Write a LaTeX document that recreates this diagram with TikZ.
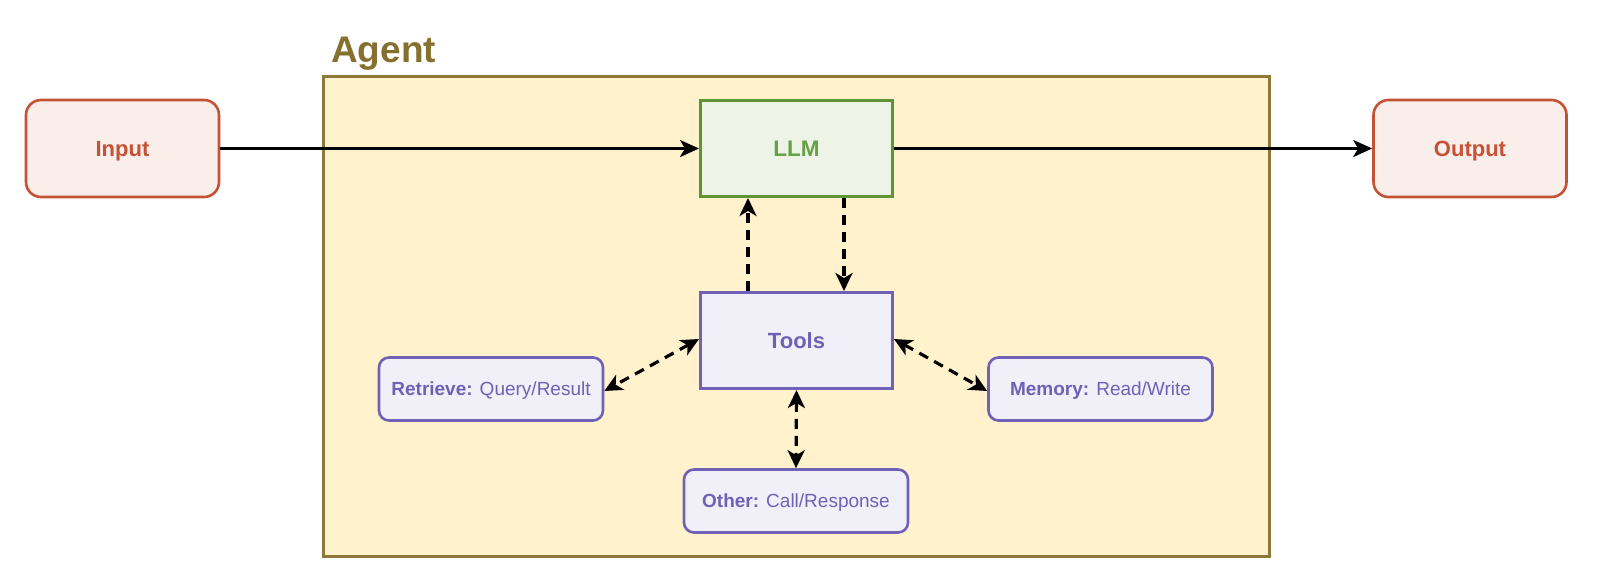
\documentclass[tikz,border=0pt]{standalone}
\usepackage{fontspec}
\setmainfont{Liberation Sans}
\usetikzlibrary{arrows.meta}
\definecolor{ioStroke}{HTML}{C65236}
\definecolor{ioFill}{HTML}{F9EEEA}
\definecolor{agStroke}{HTML}{8E7838}
\definecolor{agFill}{HTML}{FFF2CC}
\definecolor{agText}{HTML}{85702F}
\definecolor{llmStroke}{HTML}{5E9434}
\definecolor{llmFill}{HTML}{EDF4E7}
\definecolor{llmText}{HTML}{68A045}
\definecolor{tlStroke}{HTML}{6F61B6}
\definecolor{tlFill}{HTML}{F1F0F8}
\tikzset{
  iobox/.style={draw=ioStroke, fill=ioFill, line width=2.6pt, rounded corners=15pt,
    minimum width=193pt, minimum height=97pt, inner sep=0pt, text=ioStroke,
    text depth=0pt, font=\fontsize{22}{26}\selectfont\bfseries},
  llmbox/.style={draw=llmStroke, fill=llmFill, line width=3pt,
    minimum width=192pt, minimum height=96pt, inner sep=0pt, text=llmText,
    text depth=0pt, font=\fontsize{22.5}{26}\selectfont\bfseries},
  toolbox/.style={draw=tlStroke, fill=tlFill, line width=3pt,
    minimum width=192pt, minimum height=96pt, inner sep=0pt, text=tlStroke,
    text depth=0pt, font=\fontsize{22}{26}\selectfont\bfseries},
  subbox/.style={draw=tlStroke, fill=tlFill, line width=2.6pt, rounded corners=10pt,
    minimum width=224pt, minimum height=63pt, inner sep=0pt, text=tlStroke,
    text depth=0pt, font=\fontsize{19}{23}\selectfont},
  flow/.style={line width=3pt, -{Stealth[length=19pt,width=17pt,inset=5pt]}},
  dflow/.style={line width=3.2pt, dash pattern=on 10pt off 7pt,
    -{Stealth[length=18pt,width=17pt,inset=5pt]}},
  dboth/.style={line width=3.2pt, dash pattern=on 10pt off 7pt,
    {Stealth[length=18pt,width=17pt,inset=5pt]}-{Stealth[length=18pt,width=17pt,inset=5pt]}},
}
\begin{document}
\begin{tikzpicture}[x=1pt, y=-1pt]
\useasboundingbox (0,0) rectangle (1600,576);
% agent container
\node[draw=agStroke, fill=agFill, line width=3.5pt, minimum width=946pt, minimum height=480pt,
  inner sep=0pt] (agent) at (796.5,316.5) {};
\node[anchor=base west, text=agText, font=\fontsize{37}{42}\selectfont\bfseries, inner sep=0pt]
  (agentlbl) at (331,62) {Agent};
% nodes
\node[iobox] (inp) at (122.5,148.5) {Input};
\node[iobox] (out) at (1470,148.5) {Output};
\node[llmbox] (llm) at (796.5,148.5) {LLM};
\node[toolbox] (tools) at (796.5,340.5) {Tools};
\node[subbox] (ret) at (491,389) {\textbf{Retrieve:} Query/Result};
\node[subbox] (mem) at (1100.5,389) {\textbf{Memory:} Read/Write};
\node[subbox] (oth) at (796,501) {\textbf{Other:} Call/Response};
% connectors
\draw[flow] (inp.east) -- (llm.west);
\draw[flow] (llm.east) -- (out.west);
\draw[dflow] ([xshift=-48.5pt]tools.north) -- ([xshift=-48.5pt]llm.south);
\draw[dflow] ([xshift=47.5pt]llm.south) -- ([xshift=47.5pt]tools.north);
\draw[dboth] ([yshift=1.5pt]tools.west) -- ([yshift=-2pt]ret.east);
\draw[dboth] ([yshift=1.5pt]tools.east) -- ([yshift=-2pt]mem.west);
\draw[dboth] (tools.south) -- (oth.north);
\end{tikzpicture}
\end{document}
